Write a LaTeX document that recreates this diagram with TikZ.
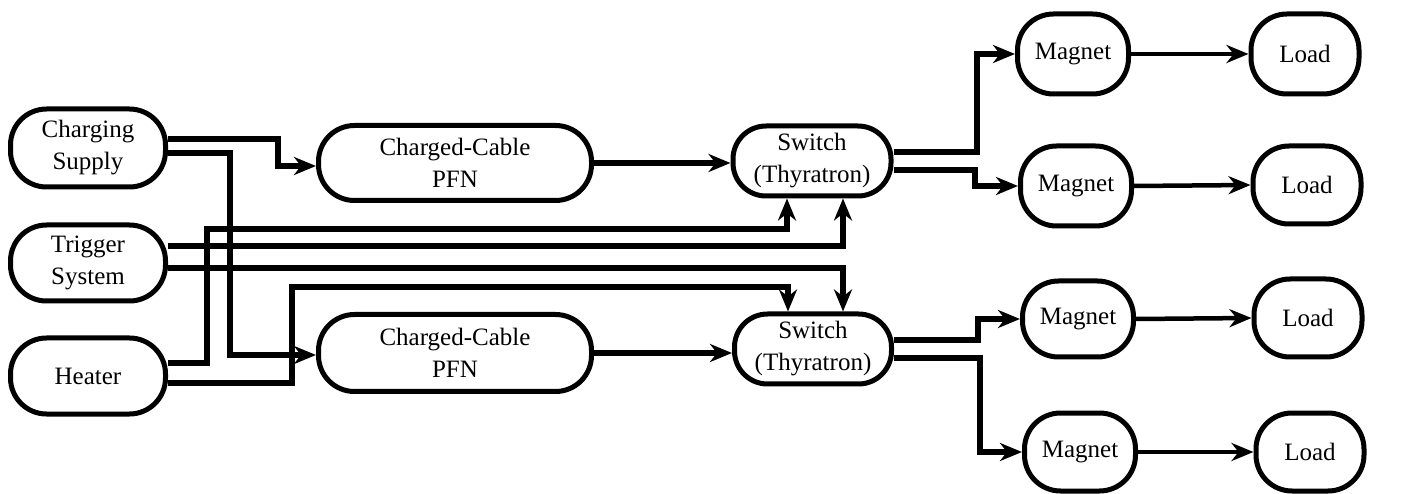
\documentclass[tikz,border=0pt]{standalone}
\usepackage{fontspec}
\setmainfont{Liberation Serif}
\usetikzlibrary{arrows.meta}
\tikzset{
  blk/.style={draw, line width=5pt, rounded corners=36pt, align=center,
    font=\fontsize{25}{32}\selectfont, inner sep=0pt},
  conn/.style={line width=5.5pt, -{Stealth[length=22pt,width=18pt,inset=7pt]}},
  thin/.style={line width=4.5pt, -{Stealth[length=22pt,width=18pt,inset=7pt]}},
}
\begin{document}
\begin{tikzpicture}[x=1pt,y=-1pt]
\useasboundingbox (0,0) rectangle (1409,494);
% left column
\node[blk, minimum width=155pt, minimum height=78pt] (cs) at (88,148) {Charging\\Supply};
\node[blk, minimum width=155pt, minimum height=76pt] (ts) at (88,263) {Trigger\\System};
\node[blk, minimum width=155pt, minimum height=76pt] (ht) at (88,376) {Heater};
% PFNs
\node[blk, minimum width=273pt, minimum height=75pt] (pfn1) at (455,163) {Charged-Cable\\PFN};
\node[blk, minimum width=273pt, minimum height=77pt] (pfn2) at (455,353) {Charged-Cable\\PFN};
% switches
\node[blk, minimum width=158pt, minimum height=70pt, rounded corners=33pt] (sw1) at (812,161) {Switch\\(Thyratron)};
\node[blk, minimum width=157pt, minimum height=70pt, rounded corners=33pt] (sw2) at (813,349) {Switch\\(Thyratron)};
% magnets
\node[blk, minimum width=111pt, minimum height=80pt] (m1) at (1073,54) {Magnet};
\node[blk, minimum width=111pt, minimum height=80pt] (m2) at (1076,186) {Magnet};
\node[blk, minimum width=111pt, minimum height=76pt] (m3) at (1078,319) {Magnet};
\node[blk, minimum width=111pt, minimum height=78pt] (m4) at (1080,452) {Magnet};
% loads
\node[blk, minimum width=108pt, minimum height=80pt] (l1) at (1305,54) {Load};
\node[blk, minimum width=108pt, minimum height=78pt] (l2) at (1307,185) {Load};
\node[blk, minimum width=108pt, minimum height=78pt] (l3) at (1308,318) {Load};
\node[blk, minimum width=108pt, minimum height=78pt] (l4) at (1310,452) {Load};
% charging supply
\draw[conn] (cs.east |- 0,139) -- (278,139) -- (278,166) -- (pfn1.west |- 0,166);
\draw[conn] (cs.east |- 0,153) -- (230,153) -- (230,355) -- (pfn2.west |- 0,355);
% heater
\draw[conn] (ht.east |- 0,363) -- (207,363) -- (207,229) -- (787,229) -- (sw1.south -| 787,0);
\draw[conn] (ht.east |- 0,383) -- (292,383) -- (292,287) -- (788,287) -- (sw2.north -| 788,0);
% trigger
\draw[conn] (ts.east |- 0,246) -- (843,246) -- (sw1.south -| 843,0);
\draw[conn] (ts.east |- 0,268) -- (843,268) -- (sw2.north -| 843,0);
% PFN -> switch
\draw[conn] (pfn1.east) -- (sw1.west |- pfn1.east);
\draw[conn] (pfn2.east) -- (sw2.west |- pfn2.east);
% switch -> magnets
\draw[conn] (sw1.east |- 0,152) -- (977,152) -- (977,54) -- (m1.west);
\draw[conn] (sw1.east |- 0,170) -- (975,170) -- (975,186) -- (m2.west);
\draw[conn] (sw2.east |- 0,340) -- (978,340) -- (978,319) -- (m3.west);
\draw[conn] (sw2.east |- 0,358) -- (980,358) -- (980,452) -- (m4.west);
% magnet -> load
\draw[thin] (m1.east) -- (l1.west);
\draw[thin] (m2.east) -- (l2.west);
\draw[thin] (m3.east) -- (l3.west);
\draw[thin] (m4.east) -- (l4.west);
\end{tikzpicture}
\end{document}
